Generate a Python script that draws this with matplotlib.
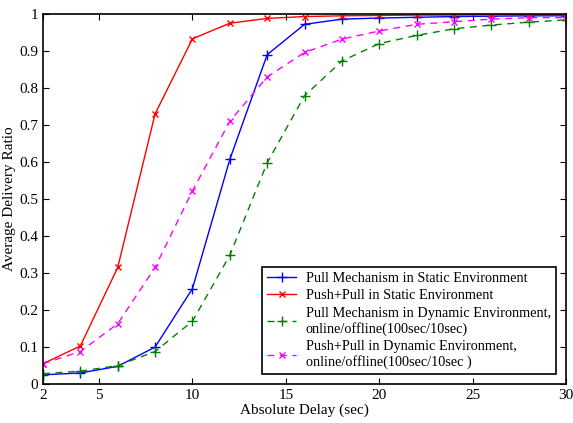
import numpy as np
import matplotlib
matplotlib.use("Agg")
import matplotlib.pyplot as plt

plt.rcParams['font.family'] = ['Liberation Serif', 'DejaVu Serif']

delay = [2, 4, 6, 8, 10, 12, 14, 16, 18, 20, 22, 24, 26, 28, 30]
pull_static = [0.025, 0.030, 0.048, 0.100, 0.258, 0.607, 0.890, 0.972, 0.986,
               0.989, 0.991, 0.993, 0.994, 0.995, 0.995]
pushpull_static = [0.055, 0.103, 0.315, 0.730, 0.933, 0.975, 0.988, 0.993, 0.995,
                   0.996, 0.997, 0.997, 0.998, 0.998, 0.998]
pull_dynamic = [0.028, 0.035, 0.050, 0.088, 0.170, 0.348, 0.598, 0.779, 0.873,
                0.920, 0.942, 0.960, 0.970, 0.978, 0.984]
pushpull_dynamic = [0.055, 0.088, 0.163, 0.315, 0.522, 0.710, 0.830, 0.896, 0.932,
                    0.954, 0.972, 0.979, 0.986, 0.990, 0.990]

labels = ["Pull Mechanism in Static Environment",
          "Push+Pull in Static Environment",
          "Pull Mechanism in Dynamic Environment,\nonline/offline(100sec/10sec)",
          "Push+Pull in Dynamic Environment,\nonline/offline(100sec/10sec )"]

fig = plt.figure(figsize=(5.73, 4.23), dpi=100)
ax = fig.add_axes([0.075, 0.092, 0.913, 0.875])

ax.plot(delay, pull_static, color='blue', marker='+', ms=7, lw=1, label=labels[0])
ax.plot(delay, pushpull_static, color='red', marker='x', ms=4, lw=1, label=labels[1])
ax.plot(delay, pull_dynamic, color='#008000', marker='+', ms=7, lw=1,
        ls=(0, (5, 4)), label=labels[2])
ax.plot(delay, pushpull_dynamic, color='magenta', marker='x', ms=4, lw=1,
        ls=(0, (5, 4)), label=labels[3])

ax.set_xlim(2, 30)
ax.set_ylim(0, 1)
ax.set_xticks([2, 5, 10, 15, 20, 25, 30])
ax.set_yticks(np.arange(0, 1.01, 0.1))
ax.set_yticklabels(['0', '0.1', '0.2', '0.3', '0.4', '0.5', '0.6', '0.7', '0.8', '0.9', '1'])
ax.tick_params(direction='in', top=True, right=True, labelsize=11, length=4)
ax.set_xlabel('Absolute Delay (sec)', fontsize=11, labelpad=1)
ax.set_ylabel('Average Delivery Ratio', fontsize=11, labelpad=2)
for s in ax.spines.values():
    s.set_linewidth(1.2)

leg = ax.legend(loc='lower right', fontsize=10.3, fancybox=False, edgecolor='black',
                framealpha=1, borderaxespad=0.7, handlelength=2.0, handletextpad=0.7,
                labelspacing=0.3, borderpad=0.35)
leg.get_frame().set_linewidth(1.2)

fig.savefig('out.png', dpi=100)
